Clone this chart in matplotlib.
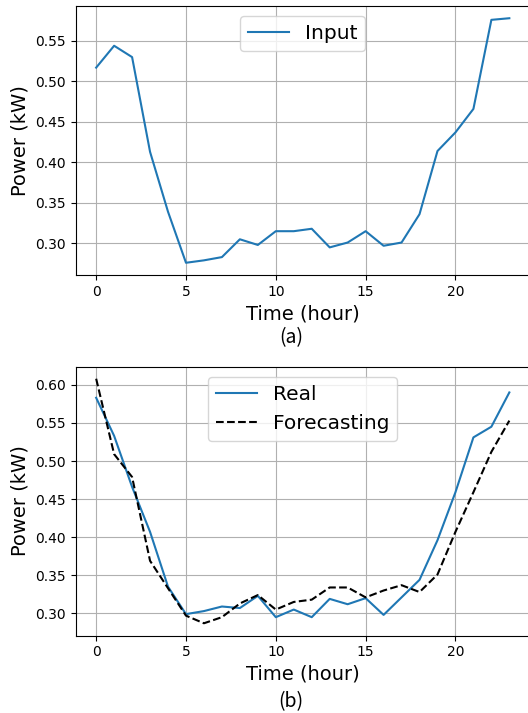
import numpy as np
import matplotlib
matplotlib.use("Agg")
import matplotlib.pyplot as plt

hours = np.arange(24)

input_kw = [0.517, 0.544, 0.530, 0.413, 0.339, 0.276, 0.279, 0.283, 0.305, 0.298,
            0.315, 0.315, 0.318, 0.295, 0.301, 0.315, 0.297, 0.301, 0.336, 0.414,
            0.437, 0.466, 0.576, 0.578]

real_kw = [0.583, 0.533, 0.466, 0.407, 0.335, 0.299, 0.303, 0.309, 0.307, 0.323,
           0.295, 0.305, 0.295, 0.319, 0.312, 0.320, 0.298, 0.321, 0.344, 0.396,
           0.459, 0.531, 0.545, 0.590]

forecast_kw = [0.608, 0.509, 0.479, 0.369, 0.333, 0.297, 0.287, 0.295, 0.313, 0.324,
               0.305, 0.315, 0.318, 0.334, 0.334, 0.321, 0.330, 0.337, 0.328, 0.351,
               0.407, 0.459, 0.512, 0.553]

W, H = 528, 713


def axes_rect(left, top, right, bottom):
    return [left / W, 1 - bottom / H, (right - left) / W, (bottom - top) / H]


def style_axes(ax):
    ax.grid(True, color="#b0b0b0", linewidth=0.8)
    ax.set_xticks([0, 5, 10, 15, 20])
    ax.tick_params(labelsize=10)
    ax.set_xlabel("Time (hour)", fontsize=14)
    ax.set_ylabel("Power (kW)", fontsize=14)


def main():
    fig = plt.figure(figsize=(W / 100, H / 100), dpi=100)

    ax1 = fig.add_axes(axes_rect(75.5, 6, 530, 275))
    ax1.plot(hours, input_kw, color="#1f77b4", linewidth=1.5, label="Input")
    ax1.set_yticks([0.30, 0.35, 0.40, 0.45, 0.50, 0.55])
    style_axes(ax1)
    ax1.legend(loc="upper center", fontsize=14.5)

    ax2 = fig.add_axes(axes_rect(75.5, 366.5, 530, 635.5))
    ax2.plot(hours, real_kw, color="#1f77b4", linewidth=1.5, label="Real")
    ax2.plot(hours, forecast_kw, "k--", linewidth=1.5, label="Forecasting")
    ax2.set_yticks([0.30, 0.35, 0.40, 0.45, 0.50, 0.55, 0.60])
    style_axes(ax2)
    ax2.legend(loc="upper center", fontsize=14.5)

    cap = dict(ha="center", va="center", fontsize=14, fontweight="light",
               family=["Noto Sans CJK KR", "DejaVu Sans"])
    fig.text(291 / W, 1 - 338 / H, "(a)", **cap)
    fig.text(291 / W, 1 - 702 / H, "(b)", **cap)

    fig.savefig("out.png", dpi=100)


if __name__ == "__main__":
    main()
